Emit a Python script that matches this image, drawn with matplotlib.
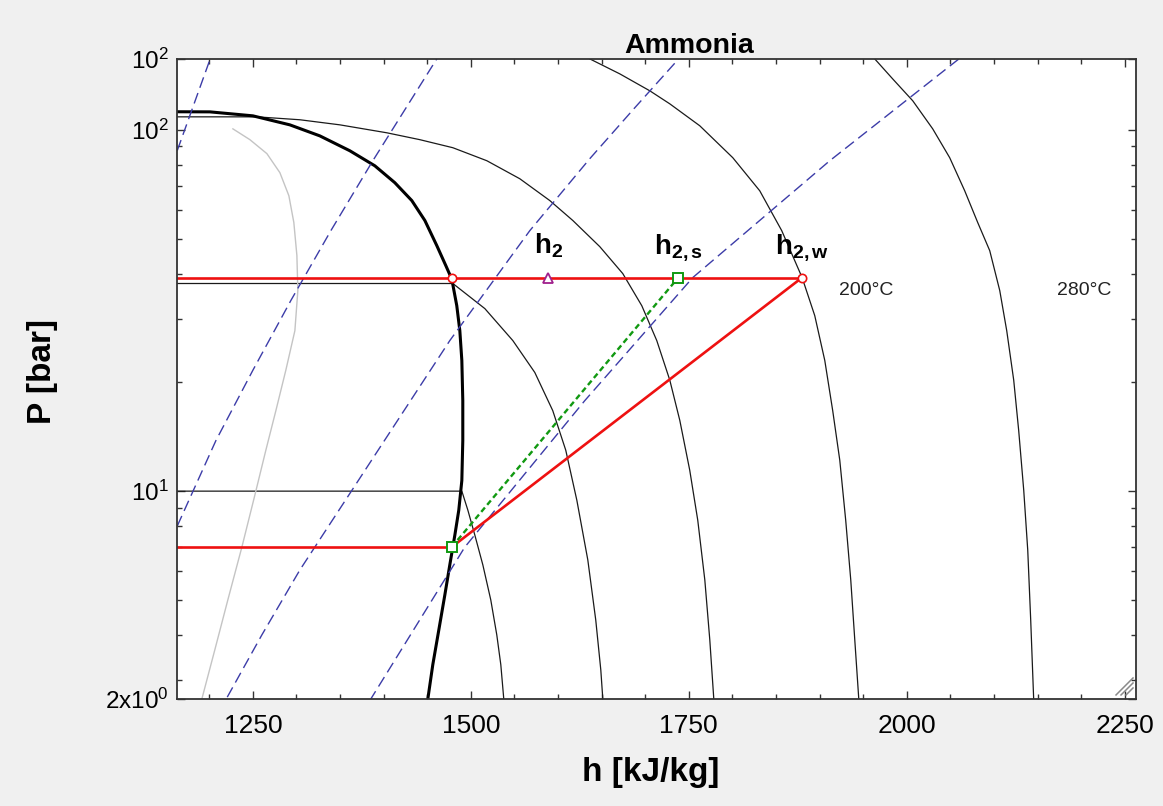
import numpy as np
import matplotlib
matplotlib.use('Agg')
import matplotlib.pyplot as plt
from matplotlib.ticker import MultipleLocator, FixedLocator, LogLocator, NullFormatter

plt.rcParams['font.family'] = ['Liberation Sans', 'DejaVu Sans']
plt.rcParams['mathtext.fontset'] = 'custom'
plt.rcParams['mathtext.rm'] = 'Liberation Sans'
plt.rcParams['mathtext.bf'] = 'Liberation Sans:bold'
plt.rcParams['mathtext.it'] = 'Liberation Sans:italic'

# saturated vapour line (h in kJ/kg, P in bar)
dome_h = [1150, 1200.7, 1250, 1292.4, 1326.8, 1361.2, 1389.9, 1412.8, 1432.3,
          1447.3, 1461.0, 1471.3, 1478.2, 1483.9, 1487.4, 1489.7, 1490.8,
          1490.8, 1489.7, 1486.2, 1481.7, 1475.9, 1470.2, 1463.3, 1456.4,
          1450.7, 1448]
dome_P = [112.2, 112.1, 109.3, 103.2, 96.2, 87.5, 79.5, 71.4, 63.7,
          56.1, 47.8, 42.1, 38.6, 32.6, 27.8, 23.0, 17.8,
          13.8, 10.7, 8.86, 7.56, 6.25, 5.16, 4.13, 3.31,
          2.66, 2.5]

# isotherms
iso_a_h = [1150, 1489.7, 1496.6, 1504.6, 1513.8, 1522.9, 1529.8, 1534.4, 1537.8, 1538.5]
iso_a_P = [10.0, 10.0, 8.86, 7.56, 6.25, 5.0, 4.0, 3.31, 2.66, 2.5]
iso_b_h = [1150, 1479.4, 1516.1, 1548.2, 1573.4, 1594.0, 1608.9, 1621.6,
           1634.2, 1643.3, 1649.1, 1651.4, 1652]
iso_b_P = [37.55, 37.55, 32.0, 26.1, 21.3, 16.7, 12.98, 9.44,
           6.45, 4.40, 3.20, 2.66, 2.5]
iso_c_h = [1150, 1254.6, 1303.9, 1349.8, 1403.7, 1441.5, 1479.4, 1518.4,
           1556.2, 1590.6, 1617.0, 1647.9, 1674.3, 1696.1, 1713.3, 1728.2,
           1739.7, 1751.1, 1760.3, 1768.4, 1774.1, 1778.7, 1779.5]
iso_c_P = [108.6, 108.6, 106.6, 103.2, 98.1, 93.9, 89.2, 82.1,
           73.2, 63.7, 56.1, 47.5, 40.0, 32.6, 26.1, 20.3,
           15.7, 11.43, 8.31, 5.68, 3.88, 2.66, 2.5]
iso_200_h = [1619.3, 1636.5, 1670.9, 1705.3, 1728.2, 1762.6, 1800.5, 1831.4,
             1856.6, 1880, 1894.5, 1906.0, 1915.1, 1923.2, 1930.0, 1935.8,
             1940.4, 1945.0, 1946]
iso_200_P = [165.3, 157.1, 142.8, 128.2, 118.0, 102.6, 83.7, 67.8,
             52.6, 39.0, 30.6, 23.0, 16.7, 12.18, 8.31, 5.68,
             3.88, 2.66, 2.5]
iso_280_h = [1955.3, 1963.3, 1983.9, 2006.9, 2029.8, 2049.3, 2066.5, 2081.4,
             2095.2, 2106.7, 2114.7, 2122.7, 2128.4, 2134.2, 2138.8, 2142.2,
             2145.6, 2146]
iso_280_P = [165.3, 157.1, 138.3, 120.3, 100.6, 83.7, 67.8, 55.4,
             46.3, 35.9, 27.8, 20.3, 14.74, 10.06, 6.87, 4.40,
             2.66, 2.5]

# grey quality line
qual_h = [1227.1, 1246.6, 1266.1, 1281.0, 1291.3, 1297.0, 1300.5, 1301.6,
          1298.2, 1287.8, 1276.4, 1264.9, 1252.3, 1237.4, 1221.3, 1206.4,
          1191.5, 1189]
qual_P = [100.6, 93.9, 85.9, 76.1, 65.7, 55.4, 44.9, 35.9,
          27.8, 21.6, 16.7, 12.98, 9.75, 7.0, 5.0, 3.64,
          2.66, 2.5]

# isentropes
s1_h = [1206.4, 1157.1]
s1_P = [170.6, 79.6]
s2_h = [1466.7, 1387.6, 1339.5, 1293.6, 1250, 1207.6, 1166.3, 1157.1]
s2_P = [165.3, 82.1, 52.6, 33.7, 21.6, 13.8, 8.31, 7.41]
s3_h = [1746.6, 1687.0, 1636.5, 1567.7, 1475.9, 1389.9, 1303.9, 1260.3, 1220.2, 1214.4]
s3_P = [165.3, 114.3, 83.2, 52.6, 26.1, 12.57, 6.05, 4.0, 2.68, 2.52]
s4_h = [2074.5, 1911.7, 1754.6, 1630.7, 1493.1, 1385.3, 1380.7]
s4_P = [167.5, 82.1, 39.0, 17.8, 7.0, 2.66, 2.55]

# compressor states
P_low = 7.0
P_high = 39.0
h1 = 1478
hg2 = 1478
h2 = 1589
h2s = 1738
h2w = 1880

fig = plt.figure(figsize=(11.63, 8.06), dpi=100, facecolor='#f0f0f0')
ax = fig.add_axes([0.1522, 0.1328, 0.8246, 0.794])
ax.set_facecolor('white')
ax.set_yscale('log')

black = '#1a1a1a'
blue = '#3c3ca8'
for ih, ip in [(iso_a_h, iso_a_P), (iso_b_h, iso_b_P), (iso_c_h, iso_c_P),
               (iso_200_h, iso_200_P), (iso_280_h, iso_280_P)]:
    ax.plot(ih, ip, color=black, lw=0.9)
ax.plot(qual_h, qual_P, color='#c4c4c4', lw=1.0)
ax.plot(dome_h, dome_P, color='black', lw=2.2)
for sh, sp in [(s1_h, s1_P), (s2_h, s2_P), (s3_h, s3_P), (s4_h, s4_P)]:
    ax.plot(sh, sp, color=blue, lw=1.0, dashes=(8, 4))

red = '#ee1111'
green = '#119911'
ax.plot([1150, h1], [P_low, P_low], color=red, lw=1.9)
ax.plot([1150, h2w], [P_high, P_high], color=red, lw=1.9)
ax.plot([h1, h2w], [P_low, P_high], color=red, lw=1.9)
ax.plot([h1, h2s], [P_low, P_high], color=green, lw=1.7, dashes=(2.4, 1.5))

ax.plot([hg2, h2w], [P_high, P_high], 'o', ms=6, mfc='white', mec=red, mew=1.2)
ax.plot([h1, h2s], [P_low, P_high], 's', ms=7, mfc='white', mec=green, mew=1.4)
ax.plot([h2], [P_high], '^', ms=6.5, mfc='white', mec='#a0208c', mew=1.3)

for hv, lab in [(h2, r'$\mathbf{h}_{\mathbf{2}}$'), (h2s, r'$\mathbf{h}_{\mathbf{2,s}}$'),
                (h2w, r'$\mathbf{h}_{\mathbf{2,w}}$')]:
    ax.annotate(lab, (hv, P_high), xytext=(0, 17), textcoords='offset points',
                ha='center', va='baseline', fontsize=20)

ax.text(1922, 35.9, '200°C', fontsize=14, va='center', ha='left', color='#222222')
ax.text(2172, 35.9, '280°C', fontsize=14, va='center', ha='left', color='#222222')

ax.set_xlim(1163, 2263)
ax.set_ylim(2.66, 157)

ax.xaxis.set_major_locator(FixedLocator([1250, 1500, 1750, 2000, 2250]))
ax.xaxis.set_minor_locator(MultipleLocator(50))
ax.yaxis.set_major_locator(FixedLocator([2.66, 10, 100, 157]))
ax.set_yticklabels([r'$2\mathrm{x}10^0$', r'$10^1$', r'$10^2$', r'$10^2$'])
ax.yaxis.set_minor_locator(LogLocator(base=10, subs=np.arange(2, 10)))
ax.yaxis.set_minor_formatter(NullFormatter())

ax.tick_params(which='both', direction='in', top=True, right=True, colors='#333333')
ax.tick_params(which='major', length=6, width=1.0)
ax.tick_params(which='minor', length=3.5, width=1.0)
ax.tick_params(axis='x', which='major', labelsize=19, pad=11, labelcolor='black')
ax.tick_params(axis='y', which='major', labelsize=17.5, pad=6, labelcolor='black')
for sp in ax.spines.values():
    sp.set_linewidth(1.3)
    sp.set_color('#333333')

# window resize grip in the corner, sizes given in pixels
ax_w = 0.8246 * 1163
ax_h = 0.794 * 806
for dpx in (7, 12, 17):
    ax.plot([1 - (3 + dpx) / ax_w, 1 - 3 / ax_w],
            [4 / ax_h, (4 + dpx) / ax_h],
            transform=ax.transAxes, color='#8a8a8a', lw=1.1, clip_on=False)

fig.text(689 / 1163, 1 - 53 / 806, 'Ammonia', fontsize=20.5, fontweight='bold',
         ha='center', va='baseline')
fig.text(651 / 1163, 1 - 773 / 806, 'h [kJ/kg]', fontsize=24, fontweight='bold',
         ha='center', va='center')
fig.text(42 / 1163, 1 - 372 / 806, 'P [bar]', fontsize=24, fontweight='bold',
         ha='center', va='center', rotation=90)

fig.savefig('out.png', dpi=100, facecolor=fig.get_facecolor())
